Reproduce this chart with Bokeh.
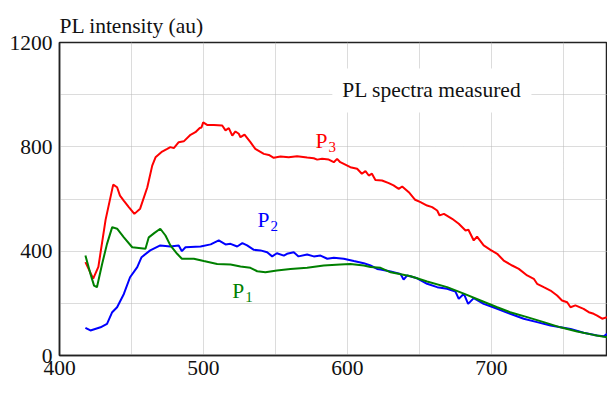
from bokeh.plotting import figure
from bokeh.models import Label, FixedTicker, Range1d
from bokeh.embed import file_html
from bokeh.resources import INLINE

# P3 (red)
p3_nm = [418, 423.4, 427, 432, 437.3, 440, 442, 444.6, 448, 452, 456, 461, 464.4, 466.7, 471.3, 474.8,
         477, 479.4, 482.8, 486.3, 491, 494.4, 497.4, 498.6, 499.8, 502.5, 507.2, 513, 515.3, 517.6,
         520, 522.2, 524.5, 525.7, 528.5, 532.6, 536, 541.9, 545.4, 548.8, 553.5, 559.2, 565, 572,
         576.6, 579, 582.4, 587, 590.5, 592.8, 595, 602, 606.7, 610, 612.5, 614.8, 617, 619.4, 624,
         628.7, 632, 635.6, 638, 642.6, 647, 650.7, 655.3, 658.8, 662.3, 664, 667, 672.7, 677.3,
         682, 684, 687.7, 690, 694.6, 699.3, 704, 708.5, 714.4, 719, 724.8, 729.4, 731.7, 736.3,
         741, 745.6, 749, 752.6, 754.9, 758.3, 764, 767.6, 771, 773.4, 776.9, 780.3]
p3_val = [358, 295, 340, 520, 655, 645, 613, 594, 570, 543, 563, 645, 728, 760, 782, 792,
          799, 795, 818, 821, 846, 856, 872, 874, 894, 884, 884, 882, 863, 872,
          843, 859, 850, 837, 847, 818, 792, 773, 769, 758, 763, 760, 764, 759,
          756, 751, 754, 751, 741, 754, 741, 722, 716, 697, 707, 690, 697, 673, 671,
          661, 652, 639, 648, 626, 597, 588, 575, 569, 556, 537, 543, 524, 505,
          479, 482, 441, 456, 422, 405, 390, 364, 345, 332, 307, 294, 275, 262,
          249, 230, 211, 204, 185, 192, 179, 166, 160, 153, 141, 147]

# P2 (blue)
p2_nm = [418, 421.5, 428.5, 433, 436.6, 440, 444.7, 449, 454, 457, 463, 470, 477, 482.8, 485, 487.5,
         498, 505, 510.6, 515.3, 518.8, 523.4, 527, 530.3, 535, 539.6, 544.2, 547.7, 551, 555.8,
         558, 562.7, 566, 572, 576.6, 581.3, 586, 590.5, 597.4, 604.4, 611.3, 616, 620.6, 623, 630,
         636.8, 639, 641.5, 648.4, 655.3, 662.3, 669.2, 675, 677.3, 680.8, 683.8, 687.7, 694.6,
         704, 713, 722.4, 731.7, 741, 755, 764, 773.4, 778, 780.3]
p2_val = [106, 96, 108, 121, 166, 185, 236, 300, 339, 377, 403, 422, 418, 422, 400, 415,
          418, 426, 441, 426, 428, 418, 431, 422, 405, 403, 396, 380, 392, 383,
          390, 396, 380, 387, 380, 383, 371, 375, 371, 362, 354, 345, 332, 330, 322,
          313, 291, 307, 296, 275, 262, 256, 245, 217, 237, 198, 220, 198,
          179, 160, 141, 128, 115, 102, 87, 77, 74, 83]

# P1 (green)
p1_nm = [418, 421.5, 424, 426, 429.6, 433, 436.6, 440, 444.7, 450.5, 459.7, 462, 466, 470, 473.6,
         477, 481.7, 485, 493.3, 500.2, 509.5, 518.8, 525.7, 532.6, 537.3, 543, 551, 560.4, 572,
         583.5, 595, 602, 611.3, 616, 623, 630, 644, 655.3, 669.2, 680.8, 692.4, 704, 713, 724.8,
         736.3, 747.9, 759.5, 771, 780.3]
p1_val = [383, 313, 268, 262, 351, 428, 492, 486, 453, 415, 409, 453, 470, 486, 460,
          422, 390, 371, 371, 362, 351, 349, 341, 336, 323, 319, 326, 332, 336,
          345, 349, 351, 345, 339, 336, 319, 304, 284, 262, 237, 211, 185, 166, 147,
          128, 108, 92, 79, 70]

x_ticks = [400, 500, 600, 700]
y_ticks = [0, 400, 800, 1200]
x_grid = [450, 500, 550, 600, 650, 700, 750]
y_grid = [200, 400, 600, 800, 1000]

FONT = "Liberation Serif"
FS = "21.5px"

p = figure(width=607, height=404, output_backend="svg", toolbar_location=None,
           x_range=Range1d(400, 780.6), y_range=Range1d(0, 1200),
           min_border_left=59, min_border_top=42, min_border_bottom=49, min_border_right=0,
           title="PL intensity (au)")
p.title.text_font = FONT
p.title.text_font_size = FS
p.title.text_font_style = "normal"
p.title.text_color = "#111111"
p.title.align = "left"
p.title.standoff = 9
p.title.offset = 0

p.background_fill_color = "white"
p.border_fill_color = "white"
p.outline_line_color = "#222222"
p.outline_line_width = 1.5

p.xaxis.ticker = FixedTicker(ticks=x_ticks)
p.yaxis.ticker = FixedTicker(ticks=y_ticks)
p.xgrid.ticker = FixedTicker(ticks=x_grid)
p.ygrid.ticker = FixedTicker(ticks=y_grid)
for g in (p.xgrid, p.ygrid):
    g.grid_line_color = "#b8b8b8"
    g.grid_line_dash = "1 1"
    g.grid_line_width = 1

for ax in (p.xaxis, p.yaxis):
    ax.axis_line_color = "#222222"
    ax.axis_line_width = 1.5
    ax.major_tick_in = 0
    ax.major_tick_out = 0
    ax.minor_tick_in = 0
    ax.minor_tick_out = 0
    ax.major_label_text_font = FONT
    ax.major_label_text_font_size = FS
    ax.major_label_text_color = "#111111"
p.yaxis.major_label_standoff = 7
p.xaxis.major_label_standoff = 5

p.line(p3_nm, p3_val, line_color="#ff0000", line_width=2)
p.line(p2_nm, p2_val, line_color="#0000ff", line_width=2)
p.line(p1_nm, p1_val, line_color="#008000", line_width=2)

def lab(x, y, text, color="#111111", size=FS, **kw):
    p.add_layout(Label(x=x, y=y, text=text, text_font=FONT, text_font_size=size,
                       text_color=color, **kw))

lab(623, -144, "Wavelength (nm)", text_baseline="alphabetic")
p.add_layout(Label(x=589.5, y=1016, text="PL spectra measured", text_font=FONT,
                   text_font_size=FS, text_color="#111111", text_baseline="middle",
                   background_fill_color="white", padding=10))

# series labels with subscripts
def plabel(x, y, sub, color):
    lab(x, y, "P", color=color, text_baseline="middle")
    p.add_layout(Label(x=x, y=y, x_offset=13, y_offset=-6, text=sub, text_font=FONT,
                       text_font_size="15px", text_color=color, text_baseline="middle"))

plabel(577.8, 824, "3", "#ff0000")
plabel(537.5, 518, "2", "#0000ff")
plabel(520, 249, "1", "#008000")

open("out.html", "w").write(file_html(p, INLINE))
